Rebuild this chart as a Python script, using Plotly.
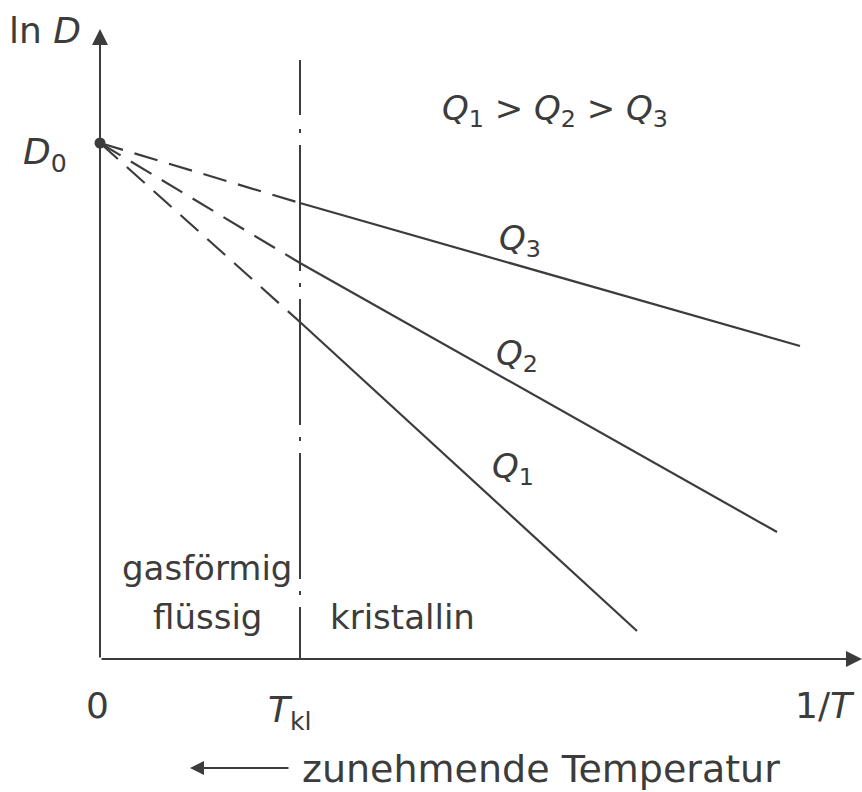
import plotly.graph_objects as go

# ---- data (schematic units: 1/T on x, ln D on y) ----
T_kl = 2.0                      # 1/T position of the crystallisation boundary
D0 = 5.16                       # ln D0 at 1/T = 0
series_names = ["Q1", "Q2", "Q3"]
y_at_Tkl = [3.37, 3.96, 4.56]   # ln D where each line crosses T_kl
x_end = [5.37, 6.77, 7.00]      # end of each solid line (1/T)
y_end = [0.28, 1.27, 3.13]      # ln D at line end
x_axis_end = 7.62
y_axis_end = 6.30
boundary_top = 5.99
boundary_split = 5.14

ink = "#3c3c3c"
font_fam = "DejaVu Sans, sans-serif"

fig = go.Figure()

# dashed extrapolation towards D0 and solid lines in the crystalline region
for name, yk, xe, ye in zip(series_names, y_at_Tkl, x_end, y_end):
    fig.add_trace(go.Scatter(x=[0, T_kl], y=[D0, yk], mode="lines",
                             line=dict(color=ink, width=2.2, dash="24px,12px"),
                             showlegend=False, hoverinfo="skip"))
    fig.add_trace(go.Scatter(x=[T_kl, xe], y=[yk, ye], mode="lines",
                             line=dict(color=ink, width=2.2),
                             showlegend=False, hoverinfo="skip"))

# vertical dash-dot boundary at T_kl
fig.add_trace(go.Scatter(x=[T_kl, T_kl], y=[boundary_top, boundary_split], mode="lines",
                         line=dict(color=ink, width=2, dash="55px,14px,4px,200px"),
                         showlegend=False, hoverinfo="skip"))
fig.add_trace(go.Scatter(x=[T_kl, T_kl], y=[boundary_split, 0], mode="lines",
                         line=dict(color=ink, width=2, dash="126px,12px,4px,12px"),
                         showlegend=False, hoverinfo="skip"))

# D0 point
fig.add_trace(go.Scatter(x=[0], y=[D0], mode="markers",
                         marker=dict(color=ink, size=11),
                         showlegend=False, hoverinfo="skip"))

# axes with arrows
fig.add_annotation(x=0, y=y_axis_end, ax=0, ay=0, xref="x", yref="y", axref="x", ayref="y",
                   showarrow=True, arrowhead=2, arrowsize=1.6, arrowwidth=2, arrowcolor=ink, text="")
fig.add_annotation(x=x_axis_end, y=0, ax=0, ay=0, xref="x", yref="y", axref="x", ayref="y",
                   showarrow=True, arrowhead=2, arrowsize=1.6, arrowwidth=2, arrowcolor=ink, text="")

# "zunehmende Temperatur" arrow
fig.add_annotation(x=0.9, y=-1.09, ax=1.9, ay=-1.09, xref="x", yref="y", axref="x", ayref="y",
                   showarrow=True, arrowhead=2, arrowsize=1.4, arrowwidth=2, arrowcolor=ink, text="")

def txt(x, y, s, size, xanchor="center"):
    fig.add_annotation(x=x, y=y, xref="x", yref="y", text=s, showarrow=False,
                       xanchor=xanchor, yanchor="middle",
                       font=dict(family=font_fam, size=size, color=ink))

txt(-0.55, 6.29, "ln <i>D</i>", 36)
txt(-0.55, 5.05, "<i>D</i><sub>0</sub>", 36)
txt(4.55, 5.49, "<i>Q</i><sub>1</sub> > <i>Q</i><sub>2</sub> > <i>Q</i><sub>3</sub>", 34)
txt(4.20, 4.19, "<i>Q</i><sub>3</sub>", 34)
txt(4.17, 3.04, "<i>Q</i><sub>2</sub>", 34)
txt(4.13, 1.91, "<i>Q</i><sub>1</sub>", 34)
txt(1.07, 0.91, "gasförmig", 34)
txt(1.07, 0.42, "flüssig", 34)
txt(3.02, 0.42, "kristallin", 34)
txt(-0.03, -0.46, "0", 36)
txt(1.90, -0.53, "<i>T</i><sub>kl</sub>", 36)
txt(7.57, -0.46, "1/<i>T</i>", 36, xanchor="right")
txt(2.0, -1.10, "zunehmende Temperatur", 38, xanchor="left")

fig.update_xaxes(range=[-1.0, 7.62], visible=False, fixedrange=True)
fig.update_yaxes(range=[-1.33, 6.59], visible=False, fixedrange=True)
fig.update_layout(width=862, height=792, margin=dict(l=0, r=0, t=0, b=0),
                  paper_bgcolor="white", plot_bgcolor="white", showlegend=False)

fig.write_html("out.html")
